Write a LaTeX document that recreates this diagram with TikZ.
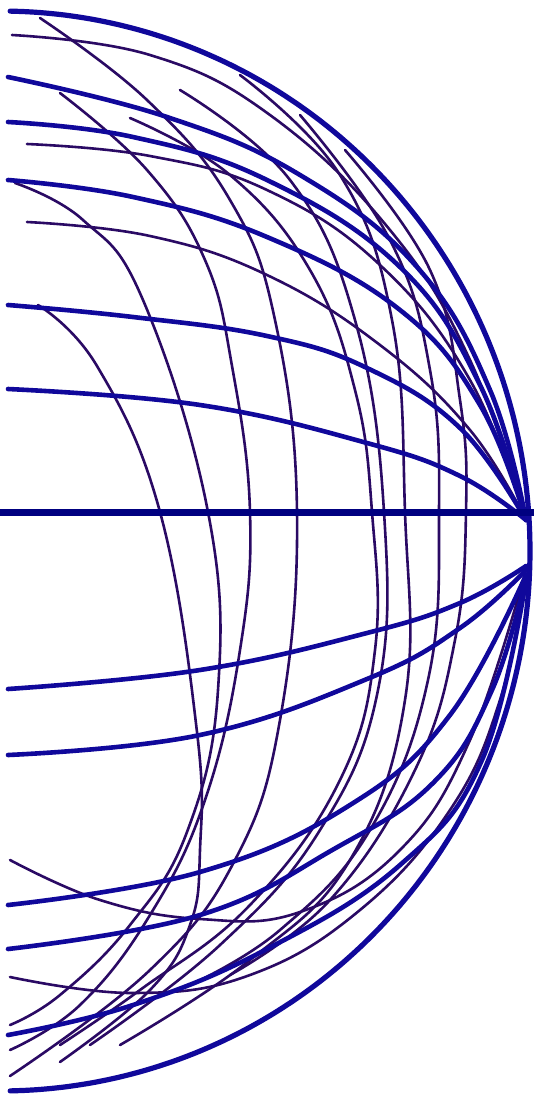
\documentclass[tikz,border=0pt]{standalone}
\begin{document}
\begin{tikzpicture}[x=1pt,y=-1pt,
  thickarc/.style={draw=arcblue,line width=4.6pt,line cap=round},
  thinarc/.style={draw=thinpurple,line width=2.6pt,line cap=round},
  axisline/.style={draw=navyc,line width=7pt},
  outerarc/.style={draw=arcblue,line width=5.2pt,line cap=round}]
\definecolor{arcblue}{RGB}{16,8,155}
\definecolor{thinpurple}{RGB}{42,10,100}
\definecolor{navyc}{RGB}{0,0,128}
\useasboundingbox (0,0) rectangle (534,1098);
\fill[white] (0,0) rectangle (534,1098);
% resistance-like thin arcs
\draw[thinarc] plot[smooth,tension=0.7] coordinates {(38,305) (97,366) (160,512) (197,732) (200,850) (190,925) (150,990) (60,1062)};
\draw[thinarc] plot[smooth,tension=0.7] coordinates {(15,183) (83,220) (143,300) (208,512) (218,690) (187,832) (130,925) (60,995) (10,1025)};
\draw[thinarc] plot[smooth,tension=0.7] coordinates {(60,93) (147,170) (205,260) (232,366) (250,512) (240,650) (205,800) (150,915) (80,1005) (10,1050)};
\draw[thinarc] plot[smooth,tension=0.7] coordinates {(40,18) (147,100) (230,200) (275,320) (297,512) (280,720) (235,860) (150,970) (10,1076)};
\draw[thinarc] plot[smooth,tension=0.7] coordinates {(130,118) (230,175) (310,270) (355,390) (372,512) (375,650) (340,780) (250,905) (140,990) (60,1045)};
\draw[thinarc] plot[smooth,tension=0.7] coordinates {(180,90) (290,180) (355,320) (384,512) (378,690) (320,830) (220,945) (90,1045)};
\draw[thinarc] plot[smooth,tension=0.7] coordinates {(240,75) (340,175) (392,320) (405,512) (405,700) (350,860) (250,960) (120,1045)};
\draw[thinarc] plot[smooth,tension=0.7] coordinates {(300,115) (390,240) (430,370) (439,512) (428,680) (370,830) (280,930) (190,985)};
\draw[thinarc] plot[smooth,tension=0.7] coordinates {(345,150) (430,270) (460,400) (466,512) (455,640) (415,770) (330,900) (230,975)};
% thin reactance-like
\draw[thinarc] plot[smooth,tension=0.7] coordinates {(12,35) (150,55) (270,115) (390,230) (470,360) (526,520)};
\draw[thinarc] plot[smooth,tension=0.7] coordinates {(27,144) (150,156) (267,190) (380,265) (470,380) (526,520)};
\draw[thinarc] plot[smooth,tension=0.7] coordinates {(27,222) (150,236) (267,275) (380,345) (470,430) (526,520)};
\draw[thinarc] plot[smooth,tension=0.7] coordinates {(10,860) (100,900) (200,919) (300,912) (400,850) (470,740) (526,570)};
\draw[thinarc] plot[smooth,tension=0.7] coordinates {(10,977) (133,993) (250,975) (360,910) (450,810) (500,700) (526,575)};
% thick reactance arcs
\draw[thickarc] plot[smooth,tension=0.7] coordinates {(8,77) (167,117) (300,175) (417,267) (490,390) (526,520)};
\draw[thickarc] plot[smooth,tension=0.7] coordinates {(8,122) (133,137) (267,180) (400,267) (480,385) (526,520)};
\draw[thickarc] plot[smooth,tension=0.7] coordinates {(8,180) (133,197) (267,237) (400,310) (480,405) (526,520)};
\draw[thickarc] plot[smooth,tension=0.7] coordinates {(8,305) (133,317) (267,336) (367,368) (460,428) (526,520)};
\draw[thickarc] plot[smooth,tension=0.7] coordinates {(8,389) (200,405) (367,443) (460,476) (526,520)};
\draw[thickarc] plot[smooth,tension=0.7] coordinates {(8,689) (200,670) (367,633) (460,603) (526,566)};
\draw[thickarc] plot[smooth,tension=0.7] coordinates {(8,755) (200,735) (367,679) (460,628) (526,570)};
\draw[thickarc] plot[smooth,tension=0.7] coordinates {(8,905) (200,872) (350,805) (450,715) (526,575)};
\draw[thickarc] plot[smooth,tension=0.7] coordinates {(8,949) (200,915) (334,849) (434,782) (492,690) (526,577)};
\draw[thickarc] plot[smooth,tension=0.7] coordinates {(8,1035) (133,1005) (267,949) (400,865) (482,760) (526,580)};
% outer boundary
\draw[outerarc] plot[domain=88.9:-88.9,samples=120,smooth] ({530*cos(\x)},{551-540*sin(\x)});
% axis
\draw[axisline] (0,512) -- (534,512);
\end{tikzpicture}
\end{document}
